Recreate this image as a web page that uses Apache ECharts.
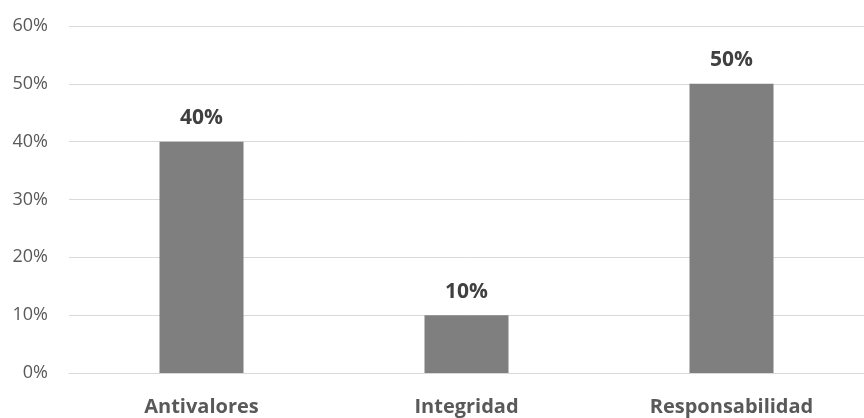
<!DOCTYPE html>
<html>
    <head>
        <meta charset="utf-8">
        <script src="https://cdn.jsdelivr.net/npm/echarts@6/dist/echarts.min.js"></script>
        <style>
            html, body { margin: 0; padding: 0; background: #fff; }
            #main { width: 864px; height: 418px; }
        </style>
    </head>
    <body>
        <div id="main"></div>
        <script>
            var categories = ['Antivalores', 'Integridad', 'Responsabilidad'];
            var values = [40, 10, 50];
            var yTicks = [0, 10, 20, 30, 40, 50, 60];

            var chart = echarts.init(document.getElementById('main'));

            var option = {
                animation: false,
                grid: {
                    left: 69,
                    right: -4,
                    top: 26,
                    bottom: 45
                },
                xAxis: {
                    type: 'category',
                    data: categories,
                    axisLine: { lineStyle: { color: '#d9d9d9' } },
                    axisTick: { show: false },
                    axisLabel: {
                        color: '#595959',
                        fontFamily: 'Open Sans',
                        fontWeight: 'bold',
                        fontSize: 20,
                        margin: 24
                    }
                },
                yAxis: {
                    type: 'value',
                    min: yTicks[0],
                    max: yTicks[yTicks.length - 1],
                    interval: 10,
                    axisLine: { show: false },
                    axisTick: { show: false },
                    splitLine: { lineStyle: { color: '#d9d9d9', width: 1 } },
                    axisLabel: {
                        color: '#595959',
                        fontFamily: 'Open Sans',
                        fontSize: 18,
                        margin: 21,
                        formatter: '{value}%'
                    }
                },
                series: [{
                    type: 'bar',
                    data: values,
                    barWidth: 84,
                    itemStyle: { color: '#7f7f7f' },
                    label: {
                        show: true,
                        position: 'top',
                        distance: 13,
                        color: '#404040',
                        fontFamily: 'Open Sans',
                        fontWeight: 'bold',
                        fontSize: 21,
                        formatter: '{c}%'
                    }
                }]
            };

            chart.setOption(option);
        </script>
    </body>
</html>
